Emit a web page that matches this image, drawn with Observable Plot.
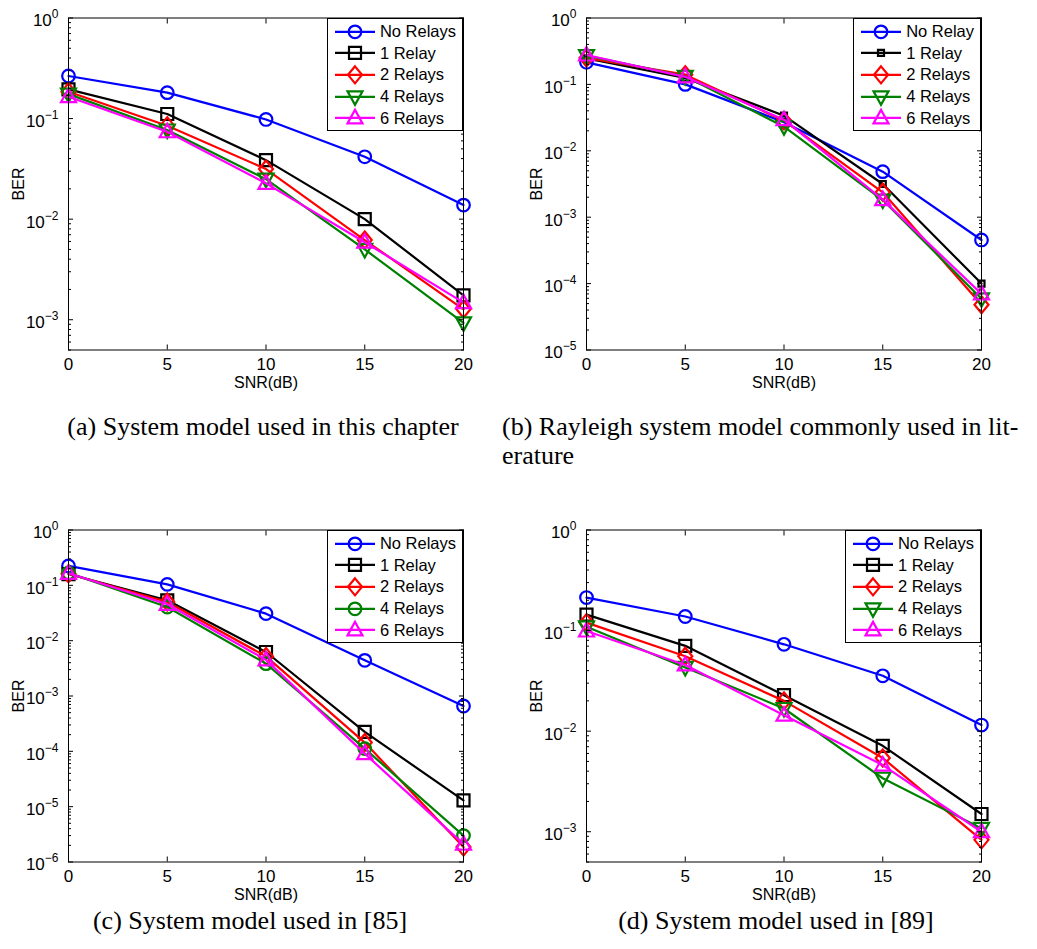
<!DOCTYPE html>
<html>
<head>
<meta charset="utf-8">
<script src="https://cdn.jsdelivr.net/npm/d3@7"></script>
<script src="https://cdn.jsdelivr.net/npm/@observablehq/plot@0.6"></script>
<style>
  body { margin: 0; background: #fff; }
  #page { position: relative; width: 1037px; height: 949px; overflow: hidden; background: #fff; }
  .panel { position: absolute; width: 518px; height: 400px; }
  .legend { position: absolute; background: #fff; border: 1px solid #000; box-sizing: border-box;
            font: 16.5px "Liberation Sans", Arial, sans-serif; color: #000; padding: 2px 6px 1px 0; }
  .row { display: flex; align-items: center; height: 21.7px; white-space: nowrap; }
  .row svg { flex: none; }
  .row span { margin-left: 5px; }
  .cap { position: absolute; font-family: "Liberation Serif", "Times New Roman", serif; font-size: 25px;
         white-space: nowrap; color: #000; }
</style>
</head>
<body>
<div id="page"></div>
<script>
// ---------------- data ----------------
const snr = [0, 5, 10, 15, 20];
const xTicks = [0, 5, 10, 15, 20];

const namesRelays = ["No Relays", "1 Relay", "2 Relays", "4 Relays", "6 Relays"];
const namesRelay  = ["No Relay", "1 Relay", "2 Relays", "4 Relays", "6 Relays"];
const seriesColors = ["#0000ff", "#000000", "#ff0000", "#008000", "#ff00ff"];

// (a) System model used in this chapter
const aNone = [0.265, 0.181, 0.098, 0.0417, 0.0138];
const aOne  = [0.195, 0.111, 0.0386, 0.0100, 0.00175];
const aTwo  = [0.185, 0.085, 0.0315, 0.0062, 0.00127];
const aFour = [0.175, 0.077, 0.025, 0.0050, 0.00093];
const aSix  = [0.165, 0.074, 0.0227, 0.0059, 0.00148];
const aDomain = [5e-4, 1];

// (b) Rayleigh system model
const bNone = [0.215, 0.100, 0.027, 0.00485, 0.000454];
const bOne  = [0.247, 0.125, 0.0338, 0.00316, 0.000100];
const bTwo  = [0.250, 0.140, 0.0284, 0.00237, 0.000048];
const bFour = [0.271, 0.132, 0.0231, 0.00181, 0.000059];
const bSix  = [0.277, 0.130, 0.0294, 0.00184, 0.000070];
const bDomain = [1e-5, 1];

// (c) System model used in [85]
const cNone = [0.224, 0.104, 0.0308, 0.00441, 0.00066];
const cOne  = [0.160, 0.0536, 0.00624, 0.000224, 0.000013];
const cTwo  = [0.162, 0.050, 0.0052, 0.000144, 0.00000186];
const cFour = [0.168, 0.0406, 0.00384, 0.000112, 0.0000030];
const cSix  = [0.165, 0.0454, 0.0045, 0.000091, 0.0000021];
const cDomain = [1e-6, 1];

// (d) System model used in [89]
const dNone = [0.213, 0.138, 0.073, 0.0355, 0.0115];
const dOne  = [0.144, 0.0705, 0.0228, 0.00715, 0.0015];
const dTwo  = [0.120, 0.0556, 0.0200, 0.0054, 0.00083];
const dFour = [0.109, 0.0430, 0.0168, 0.0034, 0.00108];
const dSix  = [0.099, 0.0455, 0.0144, 0.0046, 0.00100];
const dDomain = [5e-4, 1];

const captionA = "(a) System model used in this chapter";
const captionB1 = "(b) Rayleigh system model commonly used in lit-";
const captionB2 = "erature";
const captionC = "(c) System model used in [85]";
const captionD = "(d) System model used in [89]";

// ---------------- marker shapes ----------------
const shapes = {
  circle: {draw(c) { c.moveTo(6.3, 0); c.arc(0, 0, 6.3, 0, 2 * Math.PI); c.closePath(); }},
  square: {draw(c) { c.moveTo(-6, -6); c.lineTo(6, -6); c.lineTo(6, 6); c.lineTo(-6, 6); c.closePath(); }},
  smallSquare: {draw(c) { c.moveTo(-3, -3); c.lineTo(3, -3); c.lineTo(3, 3); c.lineTo(-3, 3); c.closePath(); }},
  diamond: {draw(c) { c.moveTo(0, -8.5); c.lineTo(7, 0); c.lineTo(0, 8.5); c.lineTo(-7, 0); c.closePath(); }},
  triDown: {draw(c) { c.moveTo(-7.5, -5.5); c.lineTo(7.5, -5.5); c.lineTo(0, 8); c.closePath(); }},
  triUp: {draw(c) { c.moveTo(0, -8); c.lineTo(7.5, 5.5); c.lineTo(-7.5, 5.5); c.closePath(); }}
};

const panels = [
  {left: 0,   top: 0,   names: namesRelays, series: [aNone, aOne, aTwo, aFour, aSix], domain: aDomain,
   symbols: ["circle", "square", "diamond", "triDown", "triUp"]},
  {left: 518, top: 0,   names: namesRelay,  series: [bNone, bOne, bTwo, bFour, bSix], domain: bDomain,
   symbols: ["circle", "smallSquare", "diamond", "triDown", "triUp"]},
  {left: 0,   top: 512, names: namesRelays, series: [cNone, cOne, cTwo, cFour, cSix], domain: cDomain,
   symbols: ["circle", "square", "diamond", "circle", "triUp"]},
  {left: 518, top: 512, names: namesRelays, series: [dNone, dOne, dTwo, dFour, dSix], domain: dDomain,
   symbols: ["circle", "square", "diamond", "triDown", "triUp"]}
];

const W = 518, H = 400, ML = 68, MR = 55, MT = 17.5, MB = 50.5;

function decadesOf(domain) {
  const out = [];
  for (let e = Math.round(Math.log10(domain[0])); e <= Math.round(Math.log10(domain[1])); e++) {
    const v = Math.pow(10, e);
    if (v >= domain[0] * 0.999 && v <= domain[1] * 1.001) out.push(v);
  }
  return out;
}
function minorsOf(domain) {
  const out = [];
  for (let e = Math.floor(Math.log10(domain[0])); e < Math.ceil(Math.log10(domain[1])); e++) {
    for (let m = 2; m <= 9; m++) {
      const v = m * Math.pow(10, e);
      if (v >= domain[0] * 0.999 && v <= domain[1] * 1.001) out.push(v);
    }
  }
  return out;
}

const page = document.getElementById("page");
const NS = "http://www.w3.org/2000/svg";

for (const p of panels) {
  const div = document.createElement("div");
  div.className = "panel";
  div.style.left = p.left + "px";
  div.style.top = p.top + "px";
  page.appendChild(div);

  const decs = decadesOf(p.domain);
  const mins = minorsOf(p.domain);
  const marks = [];
  p.series.forEach((vals, i) => {
    const rows = snr.map((s, j) => ({snr: s, ber: vals[j]}));
    marks.push(Plot.line(rows, {x: "snr", y: "ber", stroke: seriesColors[i], strokeWidth: 2.2}));
    marks.push(Plot.dot(rows, {x: "snr", y: "ber", stroke: seriesColors[i], strokeWidth: 2.2, fill: "none",
                               r: 4, symbol: shapes[p.symbols[i]]}));
  });

  const chart = Plot.plot({
    width: W, height: H,
    marginLeft: ML, marginRight: MR, marginTop: MT, marginBottom: MB,
    style: {fontFamily: "'Liberation Sans', Arial, sans-serif", fontSize: "16px", color: "#000",
            background: "transparent", overflow: "visible"},
    x: {domain: [0, 20]},
    y: {type: "log", domain: p.domain},
    marks: [
      ...marks,
      Plot.frame({stroke: "#000", strokeWidth: 1}),
      Plot.axisX(xTicks, {anchor: "bottom", tickSize: 0, tickPadding: 8, fontSize: 17, tickFormat: d => String(d),
                          label: null}),
      Plot.axisX([], {anchor: "bottom", tickSize: 0, tickFormat: () => "", fontSize: 16,
                      label: "SNR(dB)", labelAnchor: "center", labelArrow: "none", labelOffset: 38}),
      Plot.axisX(xTicks, {anchor: "bottom", tickSize: -5, tickFormat: () => "", label: null}),
      Plot.axisX(xTicks, {anchor: "top", tickSize: -5, tickFormat: () => "", label: null}),
      Plot.axisY(decs, {anchor: "left", tickSize: 0, tickPadding: 10, fontSize: 17,
                        tickFormat: d => "10^" + Math.round(Math.log10(d)), label: null}),
      Plot.axisY([], {anchor: "left", tickSize: 0, tickFormat: () => "", fontSize: 16,
                      label: "BER", labelAnchor: "center", labelArrow: "none", labelOffset: 56}),
      Plot.axisY(decs, {anchor: "left", tickSize: -5, tickFormat: () => "", label: null}),
      Plot.axisY(decs, {anchor: "right", tickSize: -5, tickFormat: () => "", label: null}),
      Plot.axisY(mins, {anchor: "left", tickSize: -3, tickFormat: () => "", label: null}),
      Plot.axisY(mins, {anchor: "right", tickSize: -3, tickFormat: () => "", label: null})
    ]
  });

  // superscript exponents on the log tick labels
  for (const t of chart.querySelectorAll("text")) {
    const m = /^10\^(-?\d+)$/.exec(t.textContent);
    if (!m) continue;
    t.textContent = "";
    const base = document.createElementNS(NS, "tspan");
    base.setAttribute("dy", "3");
    base.textContent = "10";
    const sup = document.createElementNS(NS, "tspan");
    sup.setAttribute("dy", "-8");
    sup.setAttribute("font-size", "12");
    sup.textContent = m[1].replace("-", "\u2212");
    t.append(base, sup);
  }
  div.appendChild(chart);

  // legend box (top-right inside the frame)
  const box = document.createElement("div");
  box.className = "legend";
  box.style.right = MR + "px";
  box.style.top = MT + "px";
  p.names.forEach((name, i) => {
    const row = document.createElement("div");
    row.className = "row";
    const sw = document.createElementNS(NS, "svg");
    sw.setAttribute("width", "47");
    sw.setAttribute("height", "21.7");
    const ln = document.createElementNS(NS, "line");
    ln.setAttribute("x1", "7"); ln.setAttribute("x2", "47");
    ln.setAttribute("y1", "10.85"); ln.setAttribute("y2", "10.85");
    ln.setAttribute("stroke", seriesColors[i]); ln.setAttribute("stroke-width", "2.2");
    const path = d3.path();
    shapes[p.symbols[i]].draw(path);
    const mk = document.createElementNS(NS, "path");
    mk.setAttribute("d", path.toString());
    mk.setAttribute("transform", "translate(27,10.85)");
    mk.setAttribute("fill", "none");
    mk.setAttribute("stroke", seriesColors[i]); mk.setAttribute("stroke-width", "2.2");
    sw.append(ln, mk);
    const label = document.createElement("span");
    label.textContent = name;
    row.append(sw, label);
    box.appendChild(row);
  });
  div.appendChild(box);
}

// captions
function caption(lines, x, baseline, align) {
  const c = document.createElement("div");
  c.className = "cap";
  c.style.lineHeight = "29px";
  c.style.left = x + "px";
  // baseline offset inside a 29px line box for 25px Liberation Serif ≈ 23.6px
  c.style.top = (baseline - 23.6) + "px";
  if (align === "center") {
    c.style.transform = "translateX(-50%) scaleX(1.04)";
  } else {
    c.style.transformOrigin = "0 0";
    c.style.transform = "scaleX(1.04)";
  }
  lines.forEach((l, i) => {
    if (i) c.appendChild(document.createElement("br"));
    c.appendChild(document.createTextNode(l));
  });
  page.appendChild(c);
}
caption([captionA], 263, 436, "center");
caption([captionB1, captionB2], 502, 436, "left");
caption([captionC], 250, 930, "center");
caption([captionD], 776, 930, "center");
</script>
</body>
</html>
